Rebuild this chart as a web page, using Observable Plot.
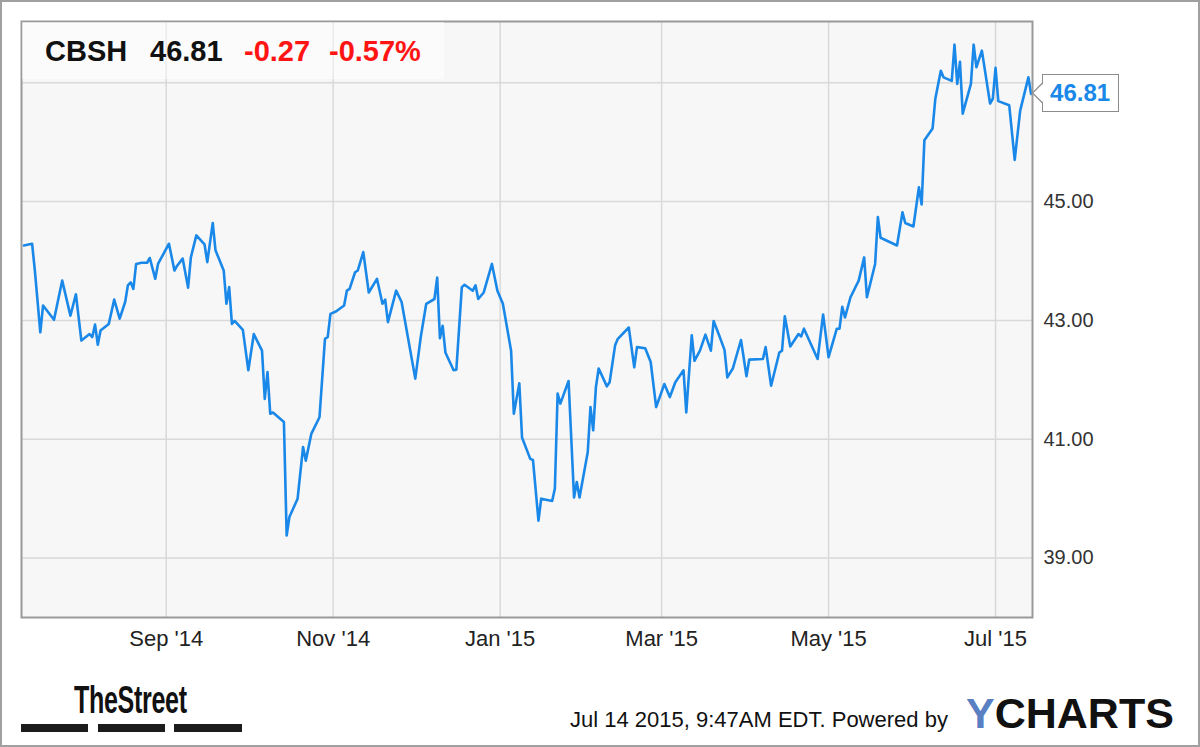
<!DOCTYPE html>
<html>
<head>
<meta charset="utf-8">
<script src="https://cdn.jsdelivr.net/npm/d3@7"></script>
<script src="https://cdn.jsdelivr.net/npm/@observablehq/plot@0.6"></script>
<style>
html, body { margin: 0; padding: 0; background: #fff; }
#wrap { position: relative; width: 1200px; height: 747px; overflow: hidden; font-family: "Liberation Sans", Arial, sans-serif; }
#chart { position: absolute; left: 0; top: 0; }
#border { position: absolute; left: 0; top: 0; width: 1200px; height: 747px; box-sizing: border-box; border: 2px solid #a0a0a0; pointer-events: none; }
.abs { position: absolute; white-space: nowrap; line-height: 1; }
#hdrbox { position: absolute; left: 22px; top: 22px; width: 422px; height: 57px; background: rgba(255,255,255,0.45); }
.hdr { font-size: 29px; font-weight: bold; top: 37px; }
.bar { position: absolute; top: 724px; height: 8px; background: #1b1b1b; }
#callout { position: absolute; height: 36px; width: 75px; background: #fff; border: 1px solid #8c8c8c; color: #1a88e8; font-weight: bold; font-size: 24px; line-height: 36px; text-align: center; }
</style>
</head>
<body>
<div id="wrap">
  <div id="chart"></div>
  <div id="hdrbox"></div>
  <div id="overlay"></div>
  <div id="border"></div>
</div>
<script>
// ---- data ----
const dates = [
"2014-07-11","2014-07-14","2014-07-15","2014-07-17","2014-07-18","2014-07-22","2014-07-25","2014-07-28","2014-07-30",
"2014-08-01","2014-08-04","2014-08-05","2014-08-06","2014-08-07","2014-08-08","2014-08-11","2014-08-13","2014-08-15",
"2014-08-17","2014-08-18","2014-08-19","2014-08-20","2014-08-21","2014-08-23","2014-08-25","2014-08-26","2014-08-28","2014-08-29",
"2014-09-02","2014-09-04","2014-09-05","2014-09-07","2014-09-09","2014-09-10","2014-09-12","2014-09-15","2014-09-16","2014-09-18",
"2014-09-19","2014-09-22","2014-09-23","2014-09-24","2014-09-25","2014-09-26","2014-09-29",
"2014-10-01","2014-10-03","2014-10-06","2014-10-07","2014-10-08","2014-10-09","2014-10-10","2014-10-14","2014-10-15","2014-10-16",
"2014-10-19","2014-10-21","2014-10-22","2014-10-24","2014-10-27","2014-10-29","2014-10-30","2014-10-31",
"2014-11-02","2014-11-05","2014-11-06","2014-11-07","2014-11-09","2014-11-10","2014-11-12","2014-11-14","2014-11-17","2014-11-19",
"2014-11-20","2014-11-21","2014-11-24","2014-11-26",
"2014-12-01","2014-12-03","2014-12-05","2014-12-08","2014-12-09","2014-12-10","2014-12-11","2014-12-12","2014-12-15","2014-12-16",
"2014-12-18","2014-12-19","2014-12-22","2014-12-23","2014-12-24","2014-12-26","2014-12-29","2014-12-31",
"2015-01-02","2015-01-05","2015-01-06","2015-01-08","2015-01-09","2015-01-12","2015-01-13","2015-01-15","2015-01-16","2015-01-20",
"2015-01-21","2015-01-22","2015-01-23","2015-01-26","2015-01-28","2015-01-29","2015-01-30",
"2015-02-02","2015-02-03","2015-02-04","2015-02-05","2015-02-06","2015-02-09","2015-02-10","2015-02-12","2015-02-13","2015-02-17",
"2015-02-19","2015-02-20","2015-02-23","2015-02-25","2015-02-27",
"2015-03-02","2015-03-04","2015-03-06","2015-03-09","2015-03-10","2015-03-12","2015-03-13","2015-03-15","2015-03-17","2015-03-19",
"2015-03-20","2015-03-22","2015-03-24","2015-03-25","2015-03-27","2015-03-30",
"2015-04-01","2015-04-02","2015-04-07","2015-04-08","2015-04-10","2015-04-13","2015-04-14","2015-04-15","2015-04-17","2015-04-20",
"2015-04-21","2015-04-22","2015-04-27","2015-04-29",
"2015-05-01","2015-05-04","2015-05-05","2015-05-06","2015-05-07","2015-05-09","2015-05-12","2015-05-14","2015-05-15","2015-05-18",
"2015-05-19","2015-05-20","2015-05-26","2015-05-28","2015-05-29",
"2015-06-01","2015-06-03","2015-06-04","2015-06-05","2015-06-08","2015-06-09","2015-06-11","2015-06-12","2015-06-15","2015-06-16",
"2015-06-17","2015-06-18","2015-06-19","2015-06-22","2015-06-23","2015-06-24","2015-06-26","2015-06-29","2015-06-30",
"2015-07-01","2015-07-02","2015-07-06","2015-07-08","2015-07-10","2015-07-13","2015-07-14"
];
const prices = [
44.26,44.29,43.84,42.80,43.25,43.01,43.67,43.08,43.44,
42.66,42.77,42.72,42.93,42.59,42.83,42.94,43.35,43.03,
43.31,43.59,43.64,43.53,43.95,43.97,43.97,44.05,43.70,43.95,
44.29,43.84,43.92,44.04,43.55,44.06,44.43,44.28,43.98,44.64,
44.18,43.84,43.28,43.56,42.94,42.99,42.84,
42.16,42.77,42.49,41.68,42.13,41.43,41.45,41.29,39.38,39.69,
40.00,40.87,40.64,41.09,41.37,42.69,42.72,43.11,
43.15,43.25,43.50,43.53,43.81,43.84,44.15,43.47,43.70,43.28,
43.35,42.97,43.50,43.31,
42.02,42.72,43.28,43.36,43.72,42.70,42.91,42.46,42.16,42.17,
43.56,43.60,43.50,43.59,43.36,43.47,43.95,43.50,
43.28,42.49,41.43,41.94,41.03,40.67,40.65,39.63,40.00,39.96,
40.17,41.77,41.60,41.98,40.02,40.28,40.02,
40.78,41.54,41.15,41.88,42.19,41.89,41.96,42.58,42.69,42.88,
42.21,42.55,42.53,42.30,41.54,
41.93,41.71,41.96,42.16,41.45,42.75,42.32,42.49,42.76,42.49,
42.99,42.75,42.50,42.04,42.19,42.67,
42.06,42.34,42.35,42.55,41.90,42.46,42.49,43.07,42.56,42.77,
42.73,42.86,42.35,43.10,
42.38,42.86,42.86,43.23,43.05,43.39,43.67,44.06,43.39,43.95,
44.74,44.39,44.26,44.82,44.64,
44.58,45.24,44.95,46.03,46.23,46.73,47.20,47.09,47.03,47.64,
46.98,47.35,46.48,46.98,47.64,47.26,47.54,46.65,46.73,
47.25,46.69,46.62,45.70,46.53,47.09,46.81
];
const yTicks = [39, 41, 43, 45, 47];
const xTickDates = ["2014-09-01","2014-11-01","2015-01-01","2015-03-01","2015-05-01","2015-07-01"];
const xTickLabels = ["Sep '14","Nov '14","Jan '15","Mar '15","May '15","Jul '15"];
const ticker = "CBSH";
const lastPrice = "46.81";
const change = "-0.27";
const changePct = "-0.57%";
const stamp = "Jul 14 2015, 9:47AM EDT. Powered by";

// ---- chart ----
const FONT = "Liberation Sans, Arial, sans-serif";
const LINE = "#1a88e8";
const toDate = s => new Date(s + "T00:00:00Z");
const data = dates.map((d, i) => ({date: toDate(d), price: prices[i]}));
const xt = xTickDates.map(toDate);
const xLabel = d => xTickLabels[xt.findIndex(t => +t === +d)];

const plot = Plot.plot({
  width: 1200,
  height: 747,
  marginLeft: 21,
  marginTop: 21,
  marginRight: 168,
  marginBottom: 130,
  style: {background: "transparent", fontFamily: FONT, overflow: "visible"},
  x: {type: "utc", domain: [new Date(Date.UTC(2014, 6, 10, 3)), new Date(Date.UTC(2015, 6, 14, 12))], label: null},
  y: {domain: [38, 48.03], label: null},
  marks: [
    Plot.frame({fill: "#f7f7f7", stroke: "none"}),
    Plot.gridX(xt, {stroke: "#d9d9d9", strokeOpacity: 1, strokeWidth: 1.5}),
    Plot.gridY(yTicks, {stroke: "#d9d9d9", strokeOpacity: 1, strokeWidth: 1.5}),
    Plot.lineY(data, {x: "date", y: "price", stroke: LINE, strokeWidth: 2.6, strokeLinejoin: "round"}),
    Plot.frame({stroke: "#9a9a9a", strokeWidth: 2}),
    Plot.axisX(xt, {tickSize: 0, tickPadding: 13, tickFormat: xLabel, fontSize: 22, fill: "#222", label: null}),
    Plot.axisY(yTicks, {anchor: "right", tickSize: 0, tickPadding: 11, tickFormat: d => d.toFixed(2), fontSize: 20, fill: "#333", label: null})
  ]
});
document.getElementById("chart").appendChild(plot);

// ---- overlays (header, last-price callout, footer) ----
const ov = document.getElementById("overlay");
function addText(txt, left, top, css) {
  const s = document.createElement("div");
  s.className = "abs";
  s.textContent = txt;
  s.style.left = left + "px";
  s.style.top = top + "px";
  Object.assign(s.style, css || {});
  ov.appendChild(s);
  return s;
}
// header
[[ticker, 45, "#111"], [lastPrice, 150, "#111"], [change, 244, "#ff1414"], [changePct, 329, "#ff1414"]].forEach(([t, l, c]) => {
  const e = addText(t, l, 37, {color: c, fontSize: "29px", fontWeight: "bold"});
});

// callout positioned from the scales at the last data point
const last = data[data.length - 1];
const px = plot.scale("x").apply(last.date);
const py = plot.scale("y").apply(last.price);
const box = document.createElement("div");
box.id = "callout";
box.textContent = last.price.toFixed(2);
box.style.left = (px + 11) + "px";
box.style.top = (py - 19) + "px";
ov.appendChild(box);
const ns = "http://www.w3.org/2000/svg";
const arr = document.createElementNS(ns, "svg");
arr.setAttribute("width", 14); arr.setAttribute("height", 22);
arr.style.position = "absolute";
arr.style.left = (px + 0) + "px";
arr.style.top = (py - 11) + "px";
const poly = document.createElementNS(ns, "polygon");
poly.setAttribute("points", "13,1 1.5,11 13,21");
poly.setAttribute("fill", "#fff");
poly.setAttribute("stroke", "none");
const pl = document.createElementNS(ns, "polyline");
pl.setAttribute("points", "11.5,1 1.5,11 11.5,21");
pl.setAttribute("fill", "none");
pl.setAttribute("stroke", "#8c8c8c");
pl.setAttribute("stroke-width", "1.2");
arr.appendChild(poly); arr.appendChild(pl);
ov.appendChild(arr);

// footer: TheStreet logo
addText("TheStreet", 74, 681, {fontSize: "38px", fontWeight: "bold", color: "#111", transform: "scaleX(0.66)", transformOrigin: "0 0", letterSpacing: "-0.5px"});
[[21, 67], [98, 67], [174, 68]].forEach(([l, w]) => {
  const b = document.createElement("div");
  b.className = "bar";
  b.style.left = l + "px";
  b.style.width = w + "px";
  ov.appendChild(b);
});
// timestamp + YCHARTS
addText(stamp, 570, 709, {fontSize: "22px", color: "#111"});
const yc = addText("", 966, 692, {fontSize: "43px", fontWeight: "bold", color: "#111"});
const ySpan = document.createElement("span");
ySpan.textContent = "Y";
ySpan.style.color = "#5a80c4";
yc.appendChild(ySpan);
yc.appendChild(document.createTextNode("CHARTS"));
</script>
</body>
</html>
